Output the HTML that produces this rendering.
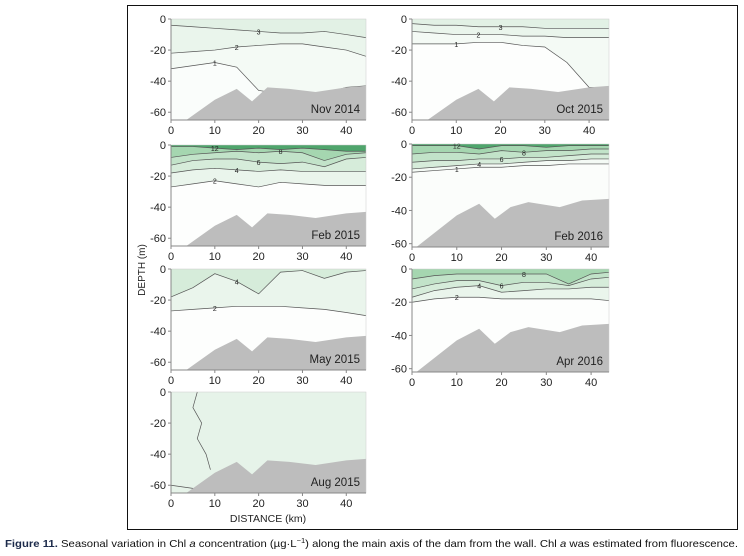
<!DOCTYPE html>
<html><head><meta charset="utf-8"><style>
body{margin:0;background:#fff;}
svg{display:block;font-family:"Liberation Sans",sans-serif;}
</style></head><body>
<svg id="fig" width="744" height="556" viewBox="0 0 744 556" xmlns="http://www.w3.org/2000/svg">
<rect x="127.5" y="5.5" width="610" height="524" fill="none" stroke="#111" stroke-width="1"/>
<text x="0" y="0" transform="translate(145,270) rotate(-90)" font-size="10" text-anchor="middle" fill="#222">DEPTH (m)</text>
<text x="268" y="522" font-size="10.5" text-anchor="middle" fill="#222">DISTANCE (km)</text>
<text x="5" y="547" font-size="10.5" fill="#111" textLength="733" lengthAdjust="spacingAndGlyphs"><tspan font-weight="bold" fill="#1c2a4a">Figure 11.</tspan> Seasonal variation in Chl <tspan font-style="italic">a</tspan> concentration (µg·L<tspan font-size="7" dy="-4">−1</tspan><tspan dy="4">) along the main axis of the dam from the wall. Chl </tspan><tspan font-style="italic">a</tspan> was estimated from fluorescence.</text>
<g id="panels"></g>
</svg>
<script>
// shared distance grid for contour depths (km)
const dist = [0,5,10,15,20,25,30,35,40,44.5];
const xTicks = [0,10,20,30,40];
const yTicks = [0,-20,-40,-60];
// bathymetry (distance, depth)
const bathyX1 = [3.5,10,15,18.5,22,27,33,40,44.5];
const bathyY1 = [-65,-52,-45,-53,-44,-45,-47,-44,-43];
const bathyX2 = [1,10,15,18.5,22,26,33,38,44];
const bathyY2 = [-62,-43,-36,-45,-38,-35,-38,-34,-33];

const colors = {1:"#f4faf5",2:"#eaf5ec",3:"#e2f1e5",4:"#d6ecda",6:"#c2e3c9",8:"#a5d6b0",10:"#7fc494",12:"#4fa56c"};

// contour data per panel: value + depth at each dist
const nov14 = [
 {v:1, d:[-32,-30,-28,-31,-46,-48,-48,-48,-44,-43]},
 {v:2, d:[-22,-21,-20,-18,-17,-16,-16,-18,-20,-24]},
 {v:3, d:[-4,-5,-6,-7,-8,-9,-9,-8,-10,-12]}];
const feb15 = [
 {v:2, d:[-27,-25,-23,-25,-27,-24,-25,-26,-26,-26]},
 {v:4, d:[-18,-16,-15,-16,-17,-16,-17,-17,-17,-17]},
 {v:6, d:[-13,-10,-9,-9,-11,-12,-11,-14,-9,-8]},
 {v:8, d:[-8,-6,-5,-4,-5,-4,-5,-10,-6,-5]},
 {v:12, d:[-1,-1,-2,-3,-2,-3,-2,-3,-4,-4]}];
const may15 = [
 {v:2, d:[-27,-26,-25,-24,-24,-24,-25,-26,-28,-30]},
 {v:4, d:[-18,-12,-3,-8,-16,-2,-1,-6,-2,-1]}];
const aug15 = [
 {v:3, d:[-60,-62,-62,-58,-52,-50,-48,-47,-46,-46]}];
const oct15 = [
 {v:1, d:[-16,-16,-16,-15,-15,-17,-18,-28,-44,-44]},
 {v:2, d:[-8,-9,-10,-10,-10,-11,-11,-12,-12,-12]},
 {v:3, d:[-3,-4,-4,-5,-5,-5,-6,-6,-6,-6]}];
const feb16 = [
 {v:1, d:[-17,-16,-15,-14,-14,-13,-13,-12,-12,-12]},
 {v:4, d:[-15,-14,-13,-12,-12,-11,-10,-10,-9,-9]},
 {v:6, d:[-11,-10,-10,-9,-9,-8,-8,-7,-6,-6]},
 {v:8, d:[-6,-5,-5,-6,-4,-5,-4,-4,-3,-3]},
 {v:12, d:[-1,-1,-1,-3,-1,-1,-2,-1,-1,-1]}];
const apr16 = [
 {v:2, d:[-20,-18,-17,-17,-18,-18,-18,-18,-18,-19]},
 {v:4, d:[-17,-13,-11,-10,-14,-13,-12,-12,-11,-11]},
 {v:6, d:[-12,-9,-7,-7,-10,-8,-8,-10,-6,-5]},
 {v:8, d:[-6,-4,-3,-3,-3,-3,-3,-9,-3,-2]}];
// Aug 2015 vertical contour (distance at each depth)
const augDepths = [0,-10,-20,-30,-40,-50];
const augLineX = [6,5,7,6,8,9];

const panels = [
 {name:"nov-2014",label:"Nov 2014",L:171,T:19,W:195,H:101,xmax:44.5,ymin:-65,c:nov14,bx:bathyX1,by:bathyY1,bg:"#fafdfb"},
 {name:"feb-2015",label:"Feb 2015",L:171,T:145,W:195,H:101,xmax:44.5,ymin:-65,c:feb15,bx:bathyX1,by:bathyY1,bg:"#fdfefd"},
 {name:"may-2015",label:"May 2015",L:171,T:269,W:195,H:101,xmax:44.5,ymin:-65,c:may15,bx:bathyX1,by:bathyY1,bg:"#fdfefd"},
 {name:"aug-2015",label:"Aug 2015",L:171,T:392,W:195,H:101,xmax:44.5,ymin:-65,c:aug15,bx:bathyX1,by:bathyY1,bg:"#e6f3e9",vx:augLineX},
 {name:"oct-2015",label:"Oct 2015",L:412,T:19,W:197,H:101,xmax:44.5,ymin:-65,c:oct15,bx:bathyX1,by:bathyY1,bg:"#fdfefd"},
 {name:"feb-2016",label:"Feb 2016",L:412,T:144,W:197,H:103,xmax:44,ymin:-62,c:feb16,bx:bathyX2,by:bathyY2,bg:"#fbfdfb"},
 {name:"apr-2016",label:"Apr 2016",L:412,T:269,W:197,H:103,xmax:44,ymin:-62,c:apr16,bx:bathyX2,by:bathyY2,bg:"#fdfefd"}
];
const NS="http://www.w3.org/2000/svg";
const root=document.getElementById("panels");
function mk(tag,attrs,parent){const e=document.createElementNS(NS,tag);for(const k in attrs)e.setAttribute(k,attrs[k]);parent.appendChild(e);return e;}
panels.forEach(p=>{
 const sx=v=>p.L+v/p.xmax*p.W;
 const sy=v=>p.T+(-v)/(-p.ymin)*p.H;
 const g=mk("g",{},root);
 
 
 const bg=mk("rect",{x:p.L,y:p.T,width:p.W,height:p.H,fill:p.bg},g);
 
 
 p.c.forEach((c,ci)=>{
  let pts=dist.map((x,i)=>[sx(Math.min(x,p.xmax)),sy(Math.max(c.d[i],p.ymin))]);
  const area="M"+sx(0)+","+sy(0)+" L"+pts.map(q=>q.join(",")).join(" L")+" L"+sx(p.xmax)+","+sy(0)+"Z";
  const a=mk("path",{d:area,fill:p.vx?p.bg:(colors[c.v]||"#eef")},g);
  
  
  const l=mk("polyline",{points:pts.map(q=>q.join(",")).join(" "),fill:"none",stroke:"#555","stroke-width":0.7},g);
  
  
  const mid=pts[2+(ci%4)];
  const t=mk("text",{x:mid[0],y:mid[1]+3,"font-size":7,"text-anchor":"middle",fill:"#222"},g);
  t.textContent=c.v;
  
  
 });
 if(p.vx){
  const vl=mk("polyline",{points:augDepths.map((d,i)=>sx(p.vx[i])+","+sy(d)).join(" "),fill:"none",stroke:"#555","stroke-width":0.7},g);
  
  
 }
 let bp="M"+sx(p.bx[0])+","+sy(p.ymin);
 p.bx.forEach((x,i)=>{bp+=" L"+sx(x)+","+sy(p.by[i]);});
 bp+=" L"+sx(p.xmax)+","+sy(p.ymin)+"Z";
 const b=mk("path",{d:bp,fill:"#bdbdbd"},g);
 
 
 const fr=mk("rect",{x:p.L,y:p.T,width:p.W,height:p.H,fill:"none",stroke:"#ccc","stroke-width":0.5},g);
 
 
 const ax=mk("path",{d:"M"+p.L+","+p.T+" V"+(p.T+p.H)+" H"+(p.L+p.W),fill:"none",stroke:"#888","stroke-width":1},g);
 
 
 yTicks.forEach(v=>{
  const tk=mk("line",{x1:p.L-3,x2:p.L,y1:sy(v),y2:sy(v),stroke:"#888","stroke-width":1},g);
  
  
  const t=mk("text",{x:p.L-5,y:sy(v)+4,"font-size":11,"text-anchor":"end",fill:"#222"},g);
  t.textContent=v;
  
  
 });
 xTicks.forEach(v=>{
  const tk=mk("line",{x1:sx(v),x2:sx(v),y1:p.T+p.H,y2:p.T+p.H+3,stroke:"#888","stroke-width":1},g);
  
  
  const t=mk("text",{x:sx(v),y:p.T+p.H+14,"font-size":11,"text-anchor":"middle",fill:"#222"},g);
  t.textContent=v;
  
  
 });
 const lab=mk("text",{x:p.L+p.W-6,y:p.T+p.H-7,"font-size":11.5,"text-anchor":"end",fill:"#222"},g);
 lab.textContent=p.label;
 
 
});
</script>
</body></html>
